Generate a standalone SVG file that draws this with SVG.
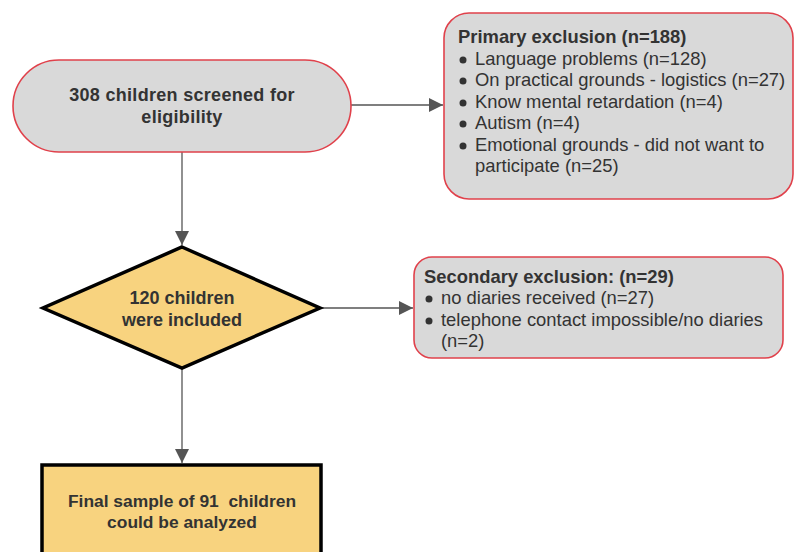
<svg xmlns="http://www.w3.org/2000/svg" width="794" height="552" viewBox="0 0 794 552">
<style>
.gray{fill:#d9d9d9;stroke:#e0414b;stroke-width:1.6}
.yel{fill:#f8d37f;stroke:#000;stroke-width:3.5}
.b{font-family:"Liberation Sans",Arial,sans-serif;font-weight:bold;font-size:18px;fill:#333}
.h{font-family:"Liberation Sans",Arial,sans-serif;font-weight:bold;font-size:18.4px;fill:#333}
.t{font-family:"Liberation Sans",Arial,sans-serif;font-size:18.4px;fill:#333}
.c{text-anchor:middle}
.conn{stroke:#555;stroke-width:1.3;fill:none}
.dot{fill:#333}
</style>
<defs>
<marker id="ah" viewBox="0 0 10 10" refX="10" refY="5" markerWidth="14" markerHeight="14" markerUnits="userSpaceOnUse" orient="auto">
<path d="M0,0 L10,5 L0,10 z" fill="#555"/>
</marker>
</defs>
<rect width="794" height="552" fill="#fff"/>
<g id="connectors">
<line class="conn" x1="351" y1="105" x2="443" y2="105" marker-end="url(#ah)"/>
<line class="conn" x1="182" y1="152" x2="182" y2="245" marker-end="url(#ah)"/>
<line class="conn" x1="320" y1="308" x2="413" y2="308" marker-end="url(#ah)"/>
<line class="conn" x1="182" y1="369" x2="182" y2="463" marker-end="url(#ah)"/>
</g>
<g id="screened">
<rect class="gray" x="13" y="60" width="338" height="92" rx="46"/>
<text class="b c" x="182" y="101" letter-spacing="0.3">308 children screened for</text>
<text class="b c" x="182" y="123" letter-spacing="0.3">eligibility</text>
</g>
<g id="primary">
<rect class="gray" x="444" y="13" width="349" height="186" rx="25"/>
<text class="h" x="458" y="43">Primary exclusion (n=188)</text>
<circle class="dot" cx="463" cy="60" r="3.5"/>
<text class="t" x="475" y="65">Language problems (n=128)</text>
<circle class="dot" cx="463" cy="81" r="3.5"/>
<text class="t" x="475" y="86">On practical grounds - logistics (n=27)</text>
<circle class="dot" cx="463" cy="103" r="3.5"/>
<text class="t" x="475" y="108">Know mental retardation (n=4)</text>
<circle class="dot" cx="463" cy="124" r="3.5"/>
<text class="t" x="475" y="129">Autism (n=4)</text>
<circle class="dot" cx="463" cy="146" r="3.5"/>
<text class="t" x="475" y="151">Emotional grounds - did not want to</text>
<text class="t" x="475" y="172">participate (n=25)</text>
</g>
<g id="included">
<polygon class="yel" points="182,247 320,308 182,368 43,308"/>
<text class="b c" x="182" y="304">120 children</text>
<text class="b c" x="182" y="326">were included</text>
</g>
<g id="secondary">
<rect class="gray" x="414" y="257" width="369" height="101" rx="18"/>
<text class="h" x="424" y="283">Secondary exclusion: (n=29)</text>
<circle class="dot" cx="429" cy="299" r="3.5"/>
<text class="t" x="441" y="304">no diaries received (n=27)</text>
<circle class="dot" cx="429" cy="321" r="3.5"/>
<text class="t" x="441" y="326">telephone contact impossible/no diaries</text>
<text class="t" x="441" y="347">(n=2)</text>
</g>
<g id="final">
<rect class="yel" x="42" y="465" width="279" height="100"/>
<text class="b c" x="182" y="507" style="font-size:17.4px" xml:space="preserve">Final sample of 91  children</text>
<text class="b c" x="182" y="528" style="font-size:17.4px">could be analyzed</text>
</g>
</svg>
